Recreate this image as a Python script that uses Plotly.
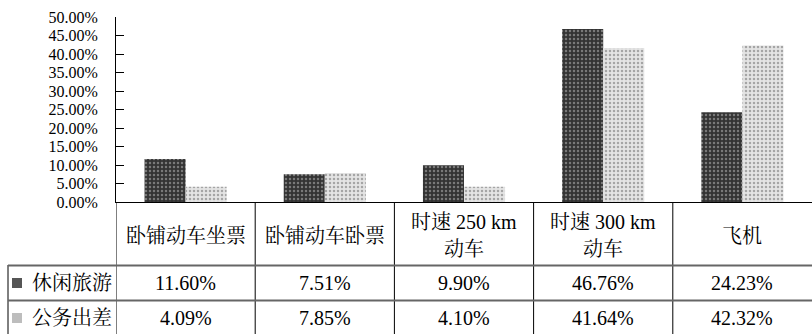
import plotly.graph_objects as go

categories = ["卧铺动车坐票", "卧铺动车卧票", "时速 250 km<br>动车", "时速 300 km<br>动车", "飞机"]
series_names = ["休闲旅游", "公务出差"]
leisure = [11.60, 7.51, 9.90, 46.76, 24.23]
business = [4.09, 7.85, 4.10, 41.64, 42.32]
tick_vals = [0, 5, 10, 15, 20, 25, 30, 35, 40, 45, 50]
tick_text = [f"{v:.2f}%" for v in tick_vals]

W, H = 812, 334
L, T, B = 116, 17, 132
PW, PH = W - L, H - T - B

def px_x(px):
    return (px - L) / PW

def px_y(py):
    return (H - B - py) / PH

FONT = "Liberation Serif, Noto Serif CJK SC, Noto Sans CJK SC, serif"
xs = list(range(len(categories)))

fig = go.Figure()
fig.add_trace(go.Bar(
    x=xs, y=leisure, name=series_names[0],
    marker=dict(color="#333333", line=dict(width=0),
                pattern=dict(shape=".", bgcolor="#333333", fgcolor="#bdbdbd",
                             size=4, solidity=0.3, fillmode="overlay")),
))
fig.add_trace(go.Bar(
    x=xs, y=business, name=series_names[1],
    marker=dict(color="#e4e4e4", line=dict(width=0),
                pattern=dict(shape=".", bgcolor="#e4e4e4", fgcolor="#666666",
                             size=4, solidity=0.3, fillmode="overlay")),
))

shapes = []
line_col = "#000000"
grey_col = "#666666"
for i in range(len(categories)):
    shapes.append(dict(type="line", xref="x", yref="paper", x0=i - 0.5, x1=i - 0.5,
                       y0=0, y1=px_y(H + 2), line=dict(color=line_col, width=1)))
shapes.append(dict(type="line", xref="paper", yref="paper", x0=px_x(8), x1=px_x(8),
                   y0=px_y(265), y1=px_y(H + 2), line=dict(color=line_col, width=1)))
for py in (265.5, 300.5):
    shapes.append(dict(type="line", xref="paper", yref="paper", x0=px_x(8), x1=1,
                       y0=px_y(py), y1=px_y(py), line=dict(color=grey_col, width=2)))
sw_cols = ["#555555", "#bdbdbd"]
row_centers = [283, 318]
for c, yc in zip(sw_cols, row_centers):
    shapes.append(dict(type="rect", xref="paper", yref="paper",
                       x0=px_x(12), x1=px_x(22), y0=px_y(yc + 5), y1=px_y(yc - 5),
                       fillcolor=c, line=dict(width=0)))

annotations = []
for i, cat in enumerate(categories):
    lines = cat.split("<br>")
    if len(lines) == 1:
        ys = [236]
    else:
        ys = [222, 249]
    for ln, yy in zip(lines, ys):
        annotations.append(dict(x=i, xref="x", y=px_y(yy), yref="paper", text=ln,
                                showarrow=False, xanchor="center", yanchor="middle",
                                font=dict(family=FONT, size=20, color="#000")))
for name, vals, yc in zip(series_names, [leisure, business], row_centers):
    annotations.append(dict(x=px_x(114), xref="paper", y=px_y(yc), yref="paper", text=name,
                            showarrow=False, xanchor="right", yanchor="middle",
                            font=dict(family=FONT, size=20, color="#000")))
    for i, v in enumerate(vals):
        annotations.append(dict(x=i, xref="x", y=px_y(yc), yref="paper", text=f"{v:.2f}%",
                                showarrow=False, xanchor="center", yanchor="middle",
                                font=dict(family=FONT, size=20, color="#000")))

fig.update_layout(
    width=W, height=H,
    margin=dict(l=L, r=0, t=T, b=B, pad=0),
    paper_bgcolor="white", plot_bgcolor="white",
    showlegend=False,
    barmode="group", bargap=0.41, bargroupgap=0,
    shapes=shapes, annotations=annotations,
    font=dict(family=FONT, size=20, color="#000"),
)
fig.update_xaxes(range=[-0.5, len(categories) - 0.5], showticklabels=False, ticks="",
                 showgrid=False, zeroline=False, showline=True, linecolor="#000", linewidth=1)
fig.update_yaxes(range=[0, 50], tickmode="array", tickvals=tick_vals, ticktext=tick_text,
                 ticks="inside", ticklen=8, tickcolor="#000", showgrid=False, zeroline=False,
                 showline=True, linecolor="#000", linewidth=1, ticklabelstandoff=14,
                 tickfont=dict(family=FONT, size=16, color="#000"))

fig.write_html("out.html")
